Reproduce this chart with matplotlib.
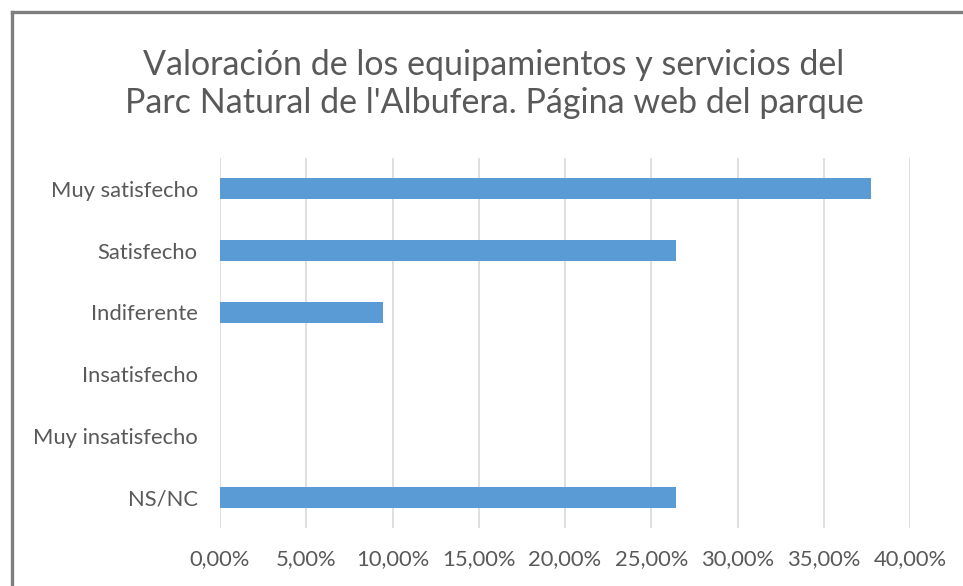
import matplotlib.pyplot as plt
from matplotlib.lines import Line2D
from matplotlib.ticker import FuncFormatter

plt.rcParams["font.family"] = ["Lato", "DejaVu Sans"]

# datos (porcentaje de respuestas), de arriba abajo
categorias = ["Muy satisfecho", "Satisfecho", "Indiferente", "Insatisfecho", "Muy insatisfecho", "NS/NC"]
valores = [37.74, 26.42, 9.43, 0.0, 0.0, 26.42]
ticks_x = [0, 5, 10, 15, 20, 25, 30, 35, 40]

titulo = "Valoración de los equipamientos y servicios del\nParc Natural de l'Albufera. Página web del parque"

gris_texto = "#595959"
azul = "#5B9BD5"

fig = plt.figure(figsize=(9.63, 5.86), dpi=100)
ax = fig.add_axes([220 / 963, 1 - 528 / 586, 690 / 963, 370 / 586])

posiciones = list(range(len(categorias)))
ax.barh(posiciones, valores, height=0.34, color=azul, zorder=3)
ax.set_yticks(posiciones)
ax.set_yticklabels(categorias)
ax.set_ylim(len(categorias) - 0.5, -0.5)

ax.set_xlim(0, 40)
ax.set_xticks(ticks_x)
ax.xaxis.set_major_formatter(FuncFormatter(lambda v, p: f"{v:.2f}%".replace(".", ",")))
ax.grid(axis="x", color="#D9D9D9", linewidth=1.2, zorder=0)

for s in ax.spines.values():
    s.set_visible(False)
ax.tick_params(axis="both", length=0, labelsize=15.8, labelcolor=gris_texto)
ax.tick_params(axis="y", pad=16)
ax.tick_params(axis="x", pad=15)

fig.text(494 / 963, 1 - 84 / 586, titulo, ha="center", va="center",
         fontsize=24.5, color=gris_texto, linespacing=1.22)

# marco gris del gráfico (cortado a la derecha y abajo)
fig.add_artist(Line2D([11.5 / 963, 11.5 / 963], [0, 1 - 11.5 / 586], color="#7F7F7F", linewidth=2.4,
                      transform=fig.transFigure, solid_capstyle="projecting"))
fig.add_artist(Line2D([11.5 / 963, 1], [1 - 11.5 / 586, 1 - 11.5 / 586], color="#7F7F7F", linewidth=2.4,
                      transform=fig.transFigure, solid_capstyle="projecting"))

fig.savefig("out.png", dpi=100)
